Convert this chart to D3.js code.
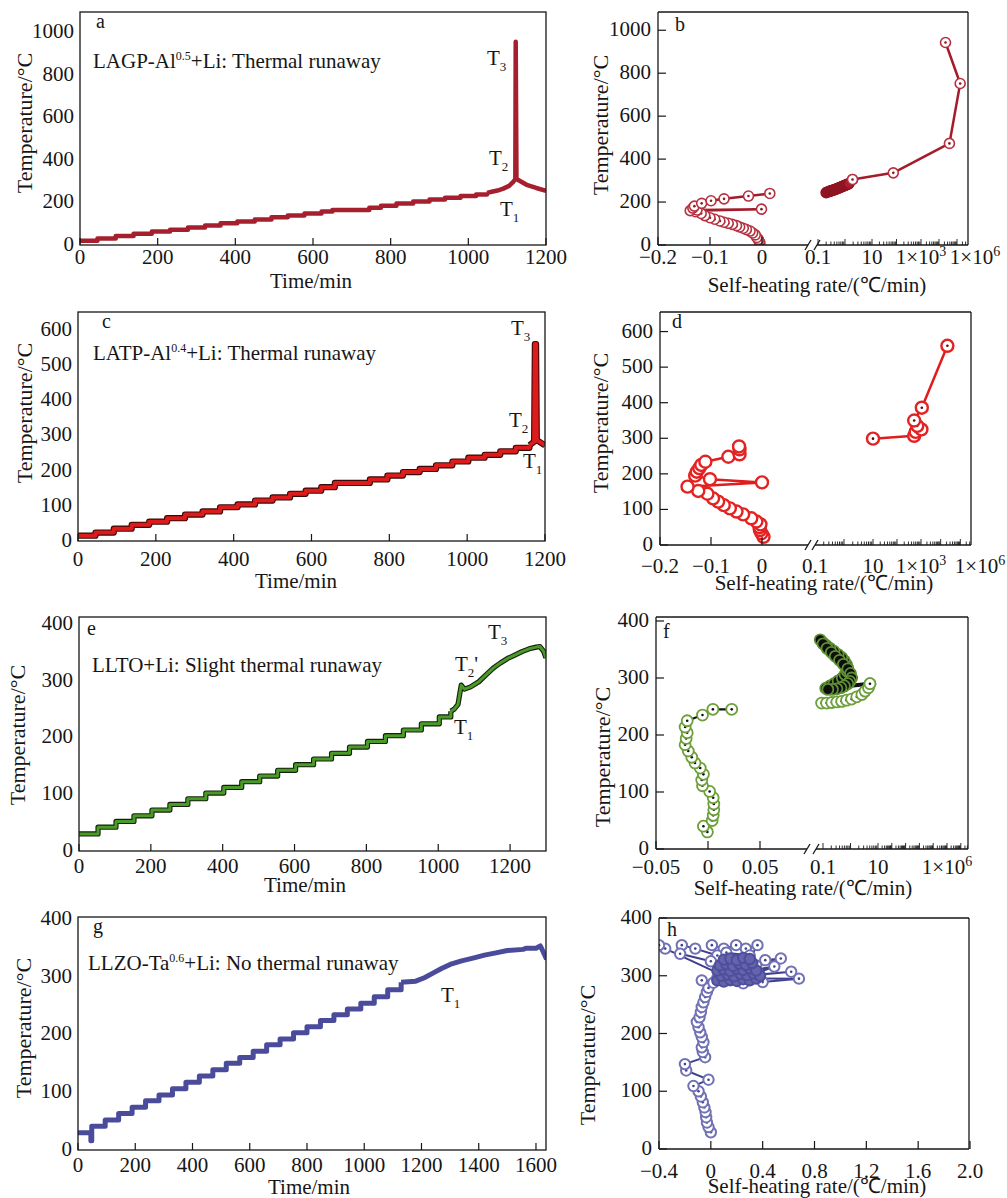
<!DOCTYPE html>
<html><head><meta charset="utf-8">
<script src="https://cdn.jsdelivr.net/npm/d3@7"></script>
<style>body{margin:0;background:#fff}</style>
</head><body>
<script>
// ---------------- DATA ----------------
// a: LAGP-Al0.5 + Li, time (min) / temperature (°C)
const aStepTime = [0,45,92,138,185,232,278,322,362,405,450,493,535,578,622,650,745,775,815,858,900,940,980,1020,1048];
const aStepTemp = [20,31,42,53,63,72,82,92,102,111,120,130,139,148,157,165,175,185,195,205,214,222,230,237,245];
const aTailTime = [1048,1060,1075,1090,1105,1115,1121,1122,1124,1150,1175,1200];
const aTailTemp = [245,250,256,265,278,295,310,955,310,283,268,255];
// c: LATP-Al0.4 + Li
const cStepTime = [0,45,92,138,183,229,275,320,365,410,455,500,545,585,625,660,750,795,835,878,920,962,1003,1045,1085,1125,1160];
const cStepTemp = [15,24,35,46,55,65,75,84,96,104,115,124,134,143,153,165,175,186,196,205,215,226,237,245,255,265,272];
const cTailTime = [1160,1172,1174,1177,1179,1186,1200];
const cTailTemp = [272,282,560,560,286,282,272];
// e: LLTO + Li
const eStepTime = [0,53,103,153,203,253,303,353,403,453,503,553,603,653,703,753,803,853,903,953,1003,1035];
const eStepTemp = [30,42,52,62,72,82,92,102,112,122,132,142,152,162,172,183,193,203,213,224,236,246];
const eTailTime = [1035,1045,1055,1064,1073,1090,1113,1133,1153,1173,1193,1213,1233,1253,1273,1283,1293,1300];
const eTailTemp = [246,250,258,292,285,289,298,310,322,331,339,345,351,356,359,360,352,340];
// g: LLZO-Ta0.6 + Li
const gStepTime = [0,45,48,95,142,189,236,283,330,377,424,471,518,565,612,659,706,753,800,847,894,941,988,1035,1082,1129];
const gStepTemp = [30,16,41,52,63,74,85,95,106,117,128,139,150,160,171,182,192,203,213,224,234,244,254,265,277,290];
const gTailTime = [1129,1180,1210,1240,1270,1300,1340,1380,1420,1460,1500,1555,1565,1600,1615,1625,1637];
const gTailTemp = [290,292,298,306,314,321,327,332,337,341,345,347,349,349,353,343,330];

// b: self-heating rate (°C/min) / temperature
const bLinRate = [-0.004,-0.005,-0.007,-0.010,-0.013,-0.018,-0.023,-0.030,-0.036,-0.043,-0.049,-0.057,-0.065,-0.073,-0.081,-0.091,-0.100,-0.110,-0.117,-0.128,-0.138,-0.001,-0.125,-0.133,-0.130,-0.116,-0.098,-0.073,-0.026,0.015];
const bLinTemp = [10,15,26,35,47,56,65,72,78,84,90,96,101,106,112,120,127,137,147,155,160,167,163,172,181,194,206,215,228,240];
const bBlobRate = [0.2,0.23,0.25,0.28,0.3,0.33,0.35,0.38,0.42,0.46,0.5,0.55,0.6,0.65,0.7,0.78,0.85,0.92,1.0,1.1,1.2,1.3,1.4,1.9];
const bBlobTemp = [244,247,249,251,252,254,255,257,258,260,262,264,266,268,270,272,274,276,278,280,282,284,286,305];
const bLogRate = [1.9,74,38000,150000,23000];
const bLogTemp = [305,336,473,752,943];
// d
const dLinRate = [0.003,-0.001,-0.004,-0.005,-0.003,-0.011,-0.021,-0.037,-0.050,-0.063,-0.075,-0.086,-0.096,-0.107,-0.125,-0.146,0.0,-0.102,-0.131,-0.128,-0.123,-0.119,-0.111,-0.066,-0.044,-0.044,-0.045];
const dLinTemp = [23,33,42,50,58,66,75,86,94,103,112,122,131,144,152,164,176,185,195,206,216,225,234,248,255,269,277];
const dLogRate = [10,520,600,1050,700,520,1100,22000];
const dLogTemp = [299,307,318,325,335,350,386,560];
// f
const fLinRate = [-0.0006,-0.0044,0.004,0.005,0.0056,0.0056,0.005,0.0016,-0.0053,-0.006,-0.0044,-0.0075,-0.0125,-0.0156,-0.019,-0.022,-0.021,-0.020,-0.022,-0.020,-0.0053,0.0047,0.0228];
const fLinTemp = [30,40,50,59,69,79,90,101,111,121,131,142,151,161,172,183,194,204,214,225,235,245,245];
const fArcRate = [0.089,0.135,0.21,0.32,0.48,0.72,1.1,1.7,2.6,3.4,4.5,5.1];
const fArcTemp = [256,256,257,258,259,261,263,267,271,277,283,290];
const fBlobRate = [5.1,0.126,0.178,0.25,0.355,0.5,0.63,0.76,0.79,0.71,0.6,0.48,0.355,0.25,0.178,0.132,0.1,0.079,
  0.1,0.14,0.2,0.28,0.4,0.55,0.8,1.0,1.1,0.95,0.8,0.6,0.45,0.32,0.22,0.15];
const fBlobTemp = [290,282,286,290,295,300,306,312,318,324,330,336,341,347,352,357,362,367,
  360,352,345,338,331,324,316,308,300,294,290,286,283,281,280,280];
// h (linear axis)
const hRate = [0,-0.018,-0.03,-0.036,-0.041,-0.05,-0.062,-0.077,-0.095,-0.134,-0.018,-0.19,-0.2,-0.044,-0.062,-0.07,-0.057,-0.07,-0.082,-0.095,-0.108,-0.087,-0.077,-0.07,-0.057,-0.044,-0.03,-0.018,-0.07,
  0.02,0.25,0.40,0.68,0.05,0.62,0.30,0.49,0.20,0.54,0.42,0.10,0.35,0.15,0.28,0.05,0.22,
  0.36,0.27,0.195,0.10,0.008,0.05,-0.12,-0.224,-0.237,0.0,0.12,0.30,0.18,0.08,-0.352,-0.40];
const hTemp = [29,38,46,55,64,72,81,91,100,109,120,136,147,159,168,176,185,194,202,211,220,228,237,246,254,263,272,279,292,
  288,287,289,295,296,307,300,316,305,330,327,310,318,292,312,320,298,
  353,347,353,347,353,335,347,353,338,325,340,335,315,302,347,353];
const hCoreRate = [0.05,0.1,0.15,0.2,0.25,0.3,0.35,0.08,0.13,0.18,0.23,0.28,0.33,0.38,0.05,0.1,0.15,0.2,0.25,0.3,0.35,0.07,0.12,0.17,0.22,0.27,0.32,0.1,0.15,0.2,0.25,0.3];
const hCoreTemp = [292,290,293,291,294,292,295,300,302,299,303,301,304,300,309,311,308,312,310,313,309,318,320,317,321,319,322,328,330,327,331,329];

// tick values
const ticks1200 = [0,200,400,600,800,1000,1200];
const ticks1600 = [0,200,400,600,800,1000,1200,1400,1600];
const tempTicks1000 = [0,200,400,600,800,1000];
const tempTicks600 = [0,100,200,300,400,500,600];
const tempTicks400 = [0,100,200,300,400];
const rateTicksBD = [-0.2,-0.1,0];
const rateTicksF = [-0.05,0,0.05];
const rateTicksH = [-0.4,0,0.4,0.8,1.2,1.6,2.0];
const rateLabelsH = ["\u22120.4","0","0.4","0.8","1.2","1.6","2.0"];
const logTicksBD = [0.1,10,1e3,1e6];
const logTicksF = [0.1,10,1e6];

// ---------------- DRAWING ----------------
const FONT = "'Liberation Serif','Times New Roman',Times,serif";
const svg = d3.select("body").append("svg").attr("width",1007).attr("height",1198)
  .style("font-family",FONT).style("display","block");
svg.append("rect").attr("width",1007).attr("height",1198).attr("fill","#fff");
const INK = "#161616";

function addText(g, x, y, parts, opts = {}) {
  const t = g.append("text").attr("x",x).attr("y",y)
    .attr("font-size",opts.size || 21).attr("text-anchor",opts.anchor || "start").attr("fill",INK);
  let shift = 0;
  parts.forEach(p => {
    const s = p[0], k = p[1];
    const target = k === "sub" ? 6 : k === "sup" ? -8 : 0;
    const ts = t.append("tspan").text(s).attr("dy", target - shift);
    if (k === "sub" || k === "sup") ts.attr("font-size", opts.small || 13);
    shift = target;
  });
  return t;
}
function fmt(v){ const s = String(Math.abs(v)); return (v < 0 ? "\u2212" : "") + s; }

function yTitle(g, x, y){
  g.append("text").attr("transform",`translate(${x},${y}) rotate(-90)`).attr("text-anchor","middle")
   .attr("font-size",22).attr("fill",INK).text("Temperature/\u00B0C");
}

function timePanel(o){
  const g = svg.append("g");
  const x = d3.scaleLinear().domain(o.xDomain).range([o.L,o.R]);
  const y = d3.scaleLinear().domain(o.yDomain).range([o.B,o.T]);
  const cid = "clip-" + o.id;
  svg.append("clipPath").attr("id",cid).append("rect")
    .attr("x",o.L).attr("y",o.T).attr("width",o.R-o.L).attr("height",o.B-o.T);
  const pg = g.append("g").attr("clip-path",`url(#${cid})`);
  const step = d3.line().x(i => x(o.stepTime[i])).y(i => y(o.stepTemp[i])).curve(d3.curveStepAfter);
  const tail = d3.line().x(i => x(o.tailTime[i])).y(i => y(o.tailTemp[i]));
  const si = d3.range(o.stepTime.length), ti = d3.range(o.tailTime.length);
  const layers = o.under ? [[o.under, o.w + 2.2],[o.color, o.w]] : [[o.color, o.w]];
  layers.forEach(([c,w]) => {
    pg.append("path").attr("d",step(si)).attr("fill","none").attr("stroke",c).attr("stroke-width",w).attr("stroke-linejoin","round");
    pg.append("path").attr("d",tail(ti)).attr("fill","none").attr("stroke",c).attr("stroke-width",w).attr("stroke-linejoin","round");
  });
  g.append("rect").attr("x",o.L).attr("y",o.T).attr("width",o.R-o.L).attr("height",o.B-o.T)
    .attr("fill","none").attr("stroke",INK).attr("stroke-width",1.3);
  o.xTicks.forEach(v => {
    g.append("line").attr("x1",x(v)).attr("x2",x(v)).attr("y1",o.B).attr("y2",o.B-7).attr("stroke",INK).attr("stroke-width",1.2);
    g.append("text").attr("x",x(v)).attr("y",o.xLabY).attr("text-anchor","middle").attr("font-size",21).attr("fill",INK).text(fmt(v));
  });
  o.yTicks.forEach(v => {
    g.append("text").attr("x",o.L-6).attr("y",y(v)+6).attr("text-anchor","end").attr("font-size",21).attr("fill",INK).text(fmt(v));
  });
  g.append("text").attr("x",o.xTitle[0]).attr("y",o.xTitle[1]).attr("text-anchor","middle").attr("font-size",21).attr("fill",INK).text("Time/min");
  yTitle(g, o.yTitle[0], o.yTitle[1]);
  addText(g, o.letter[1], o.letter[2], [[o.letter[0]]], {size:20});
  addText(g, o.note.x, o.note.y, o.note.parts, {size:21, small:12});
  o.tl.forEach(t => addText(g, t.x, t.y, t.parts, {size:21, small:13}));
}

function ratePanel(o){
  const g = svg.append("g");
  const xl = d3.scaleLinear().domain(o.linDomain).range(o.linRange);
  const xg = o.logDomain ? d3.scaleLog().domain(o.logDomain).range(o.logRange) : null;
  const y = d3.scaleLinear().domain(o.yDomain).range([o.B,o.T]);
  const cid = "clip-" + o.id;
  svg.append("clipPath").attr("id",cid).append("rect")
    .attr("x",o.L).attr("y",o.T).attr("width",o.R-o.L).attr("height",o.B-o.T);
  const pg = g.append("g").attr("clip-path",`url(#${cid})`);
  o.series.forEach(s => {
    const sx = s.sc === "log" ? xg : xl;
    const idx = d3.range(s.rate.length);
    const ln = d3.line().x(i => sx(s.rate[i])).y(i => y(s.temp[i]));
    pg.append("path").attr("d",ln(idx)).attr("fill","none").attr("stroke",s.lineColor || o.lineColor)
      .attr("stroke-width",s.lineW || o.lineW).attr("stroke-linejoin","round");
  });
  o.series.forEach(s => {
    const sx = s.sc === "log" ? xg : xl;
    d3.range(s.rate.length).forEach(i => {
      const cx = sx(s.rate[i]), cy = y(s.temp[i]);
      pg.append("circle").attr("cx",cx).attr("cy",cy).attr("r",o.r)
        .attr("fill", s.fill || "#fff").attr("stroke", s.stroke || o.mColor).attr("stroke-width",o.mW);
      if (s.dot) pg.append("circle").attr("cx",cx).attr("cy",cy).attr("r",1.3).attr("fill",o.dotColor);
    });
  });
  // frame
  const fr = g.append("g").attr("stroke",INK).attr("stroke-width",1.3).attr("fill","none");
  fr.append("line").attr("x1",o.L).attr("x2",o.R).attr("y1",o.T).attr("y2",o.T);
  fr.append("line").attr("x1",o.L).attr("x2",o.L).attr("y1",o.T).attr("y2",o.B);
  fr.append("line").attr("x1",o.R).attr("x2",o.R).attr("y1",o.T).attr("y2",o.B);
  if (o.brk) {
    fr.append("line").attr("x1",o.L).attr("x2",o.brk[0]).attr("y1",o.B).attr("y2",o.B);
    fr.append("line").attr("x1",o.brk[1]).attr("x2",o.R).attr("y1",o.B).attr("y2",o.B);
    fr.append("line").attr("x1",o.brk[0]-3).attr("x2",o.brk[0]+3).attr("y1",o.B+5).attr("y2",o.B-5);
    fr.append("line").attr("x1",o.brk[1]-3).attr("x2",o.brk[1]+3).attr("y1",o.B+5).attr("y2",o.B-5);
  } else {
    fr.append("line").attr("x1",o.L).attr("x2",o.R).attr("y1",o.B).attr("y2",o.B);
  }
  // y ticks
  o.yTicks.forEach(v => {
    g.append("line").attr("x1",o.L).attr("x2",o.L+8).attr("y1",y(v)).attr("y2",y(v)).attr("stroke",INK).attr("stroke-width",1.2);
    g.append("text").attr("x",o.L-7).attr("y",y(v)+6).attr("text-anchor","end").attr("font-size",21).attr("fill",INK).text(fmt(v));
  });
  // linear x ticks
  o.linTicks.forEach((v,i) => {
    g.append("line").attr("x1",xl(v)).attr("x2",xl(v)).attr("y1",o.B).attr("y2",o.B-8).attr("stroke",INK).attr("stroke-width",1.2);
    g.append("text").attr("x",xl(v)).attr("y",o.xLabY).attr("text-anchor","middle").attr("font-size",21).attr("fill",INK)
      .text(o.linLabels ? o.linLabels[i] : fmt(v));
  });
  // log ticks
  if (xg) {
    for (let k = -1; k <= 7; k++) {
      for (let m = 1; m <= 9; m++) {
        const v = m * Math.pow(10,k), px = xg(v);
        if (px < o.brk[1] + 1 || px > o.R - 0.5) continue;
        g.append("line").attr("x1",px).attr("x2",px).attr("y1",o.B).attr("y2",o.B-(m===1?6:3.5))
          .attr("stroke",INK).attr("stroke-width",0.9);
      }
    }
    o.logTicks.forEach(v => {
      const px = xg(v);
      const e = Math.round(Math.log10(v));
      const parts = v < 100 ? [[String(v)]] : [["1\u00D710"],[String(e),"sup"]];
      addText(g, px, o.xLabY, parts, {size:21, small:14, anchor:"middle"});
    });
  }
  g.append("text").attr("x",o.xTitle[0]).attr("y",o.xTitle[1]).attr("text-anchor","middle").attr("font-size",21).attr("fill",INK)
    .text("Self-heating rate/(\u2103/min)");
  yTitle(g, o.yTitle[0], o.yTitle[1]);
  addText(g, o.letter[1], o.letter[2], [[o.letter[0]]], {size:20});
}

// ---------- panels ----------
timePanel({id:"a", L:80, R:546, T:12, B:245, xDomain:[0,1200], yDomain:[0,1095],
  xTicks:ticks1200, yTicks:tempTicks1000, stepTime:aStepTime, stepTemp:aStepTemp, tailTime:aTailTime, tailTemp:aTailTemp,
  color:"#a61f2e", w:4.5, xLabY:264, xTitle:[311,288], yTitle:[32,123], letter:["a",96,28],
  note:{x:93,y:68,parts:[["LAGP-Al"],["0.5","sup"],["+Li: Thermal runaway"]]},
  tl:[{x:487,y:65,parts:[["T"],["3","sub"]]},{x:489,y:165,parts:[["T"],["2","sub"]]},{x:500,y:216,parts:[["T"],["1","sub"]]}]});

timePanel({id:"c", L:78, R:545, T:312, B:541, xDomain:[0,1200], yDomain:[0,651],
  xTicks:ticks1200, yTicks:tempTicks600, stepTime:cStepTime, stepTemp:cStepTemp, tailTime:cTailTime, tailTemp:cTailTemp,
  color:"#de1b1b", under:"#3a0808", w:4, xLabY:566, xTitle:[296,588], yTitle:[32,413], letter:["c",102,328],
  note:{x:93,y:360,parts:[["LATP-Al"],["0.4","sup"],["+Li: Thermal runaway"]]},
  tl:[{x:511,y:335,parts:[["T"],["3","sub"]]},{x:509,y:427,parts:[["T"],["2","sub"]]},{x:523,y:468,parts:[["T"],["1","sub"]]}]});

timePanel({id:"e", L:79, R:546, T:617, B:851, xDomain:[0,1300], yDomain:[0,412],
  xTicks:ticks1200, yTicks:tempTicks400, stepTime:eStepTime, stepTemp:eStepTemp, tailTime:eTailTime, tailTemp:eTailTemp,
  color:"#4a9a28", under:"#15200c", w:3, xLabY:873, xTitle:[305,892], yTitle:[25,735], letter:["e",87,635],
  note:{x:92,y:672,parts:[["LLTO+Li: Slight thermal runaway"]]},
  tl:[{x:488,y:639,parts:[["T"],["3","sub"]]},{x:455,y:671,parts:[["T"],["2","sub"],["'"]]},{x:454,y:734,parts:[["T"],["1","sub"]]}]});

timePanel({id:"g", L:78, R:546, T:917, B:1150, xDomain:[0,1635], yDomain:[0,403],
  xTicks:ticks1600, yTicks:tempTicks400, stepTime:gStepTime, stepTemp:gStepTemp, tailTime:gTailTime, tailTemp:gTailTemp,
  color:"#4b4b9b", w:5, xLabY:1172, xTitle:[309,1194], yTitle:[31,1028], letter:["g",93,933],
  note:{x:88,y:970,parts:[["LLZO-Ta"],["0.6","sup"],["+Li: No thermal runaway"]]},
  tl:[{x:441,y:1002,parts:[["T"],["1","sub"]]}]});

ratePanel({id:"b", L:658, R:968, T:12, B:245, yDomain:[0,1085], yTicks:tempTicks1000,
  linDomain:[-0.2,0], linRange:[658,762], linTicks:rateTicksBD,
  logDomain:[0.1,10,1e3,1e6], logRange:[818,872,921,975], logTicks:logTicksBD, brk:[808,817],
  series:[
    {sc:"lin", rate:bLinRate, temp:bLinTemp, dot:true},
    {sc:"log", rate:bBlobRate, temp:bBlobTemp, dot:false, fill:"#a8202f", stroke:"#8e1522"},
    {sc:"log", rate:bLogRate, temp:bLogTemp, dot:true}],
  lineColor:"#a31c2b", lineW:2.5, mColor:"#b8303f", mW:1.6, r:5, dotColor:"#8e1522",
  xLabY:264, xTitle:[817,292], yTitle:[608,125], letter:["b",675,31]});

ratePanel({id:"d", L:660, R:971, T:312, B:545, yDomain:[0,655], yTicks:tempTicks600,
  linDomain:[-0.2,0], linRange:[660,762], linTicks:rateTicksBD,
  logDomain:[0.1,10,1e3,1e6], logRange:[815,873,921,980], logTicks:logTicksBD, brk:[808,815],
  series:[
    {sc:"lin", rate:dLinRate, temp:dLinTemp, dot:false},
    {sc:"log", rate:dLogRate, temp:dLogTemp, dot:true}],
  lineColor:"#e01c1c", lineW:2.5, mColor:"#e52222", mW:2.4, r:6, dotColor:"#5a0a0a",
  xLabY:573, xTitle:[824,590], yTitle:[608,423], letter:["d",672,328]});

ratePanel({id:"f", L:656, R:968, T:617, B:849, yDomain:[0,407], yTicks:tempTicks400,
  linDomain:[-0.05,0.05], linRange:[656,760], linTicks:rateTicksF,
  logDomain:[0.1,10,1e6], logRange:[823,878,947], logTicks:logTicksF, brk:[807,816],
  series:[
    {sc:"lin", rate:fLinRate, temp:fLinTemp, dot:true},
    {sc:"log", rate:fBlobRate, temp:fBlobTemp, dot:false, fill:"#0e0e0e", stroke:"#5f8f34", lineW:4},
    {sc:"log", rate:fArcRate, temp:fArcTemp, dot:true}],
  lineColor:"#111", lineW:2.2, mColor:"#6d9f3a", mW:1.8, r:5.5, dotColor:"#111",
  xLabY:874, xTitle:[803,895], yTitle:[610,757], letter:["f",663,638]});

ratePanel({id:"h", L:659, R:969, T:918, B:1149, yDomain:[0,400], yTicks:tempTicks400,
  linDomain:[-0.4,2.0], linRange:[659,970], linTicks:rateTicksH, linLabels:rateLabelsH,
  series:[
    {sc:"lin", rate:hRate, temp:hTemp, dot:true},
    {sc:"lin", rate:hCoreRate, temp:hCoreTemp, dot:false, fill:"#6464ad", stroke:"#4e4e9c", lineColor:"#4a4a98", lineW:3}],
  lineColor:"#3f3f8f", lineW:2, mColor:"#7171b6", mW:2, r:5.2, dotColor:"#3f3f8f",
  xLabY:1178, xTitle:[817,1193], yTitle:[595,1055], letter:["h",667,936]});
</script>
</body></html>
